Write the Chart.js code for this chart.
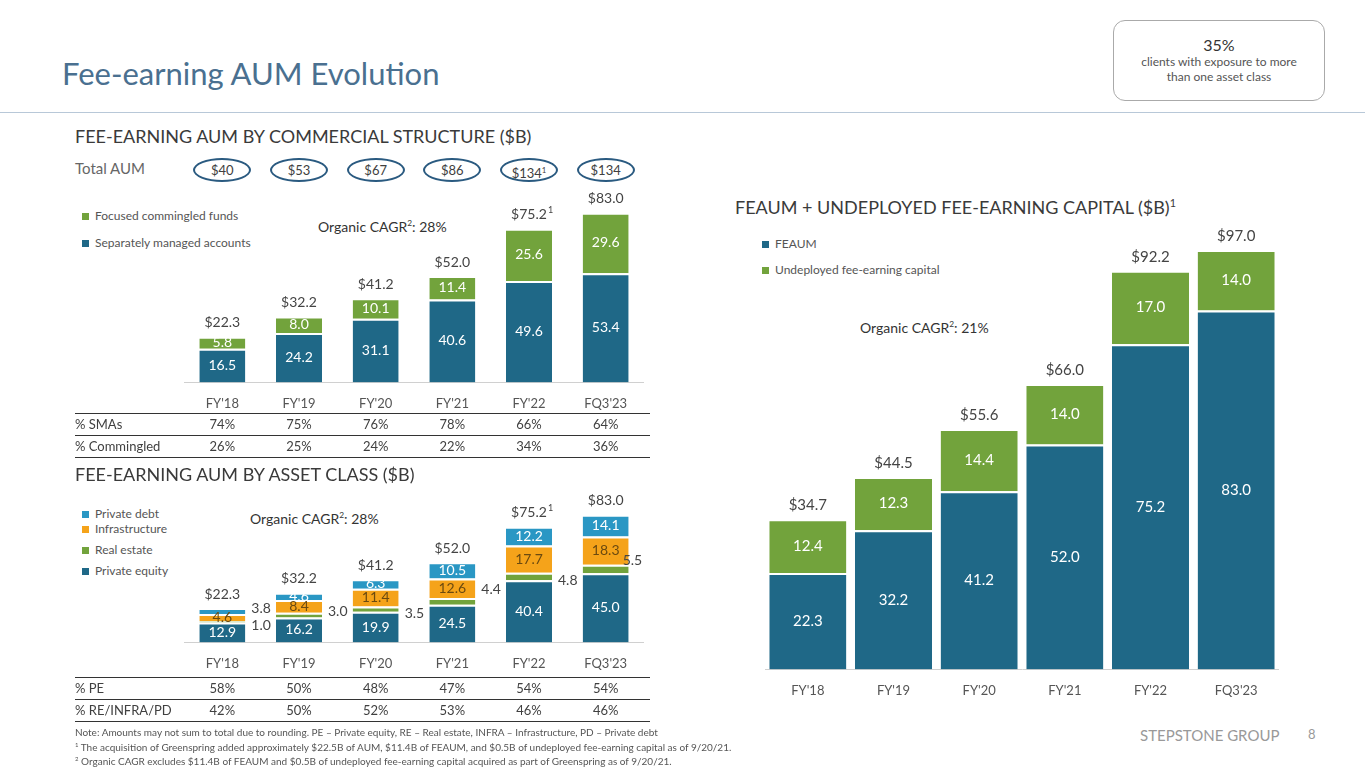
<!DOCTYPE html>
<html><head><meta charset="utf-8">
<script src="https://cdn.jsdelivr.net/npm/chart.js@4"></script>
<style>
body{margin:0;width:1365px;height:768px;position:relative;background:#fff;font-family:Lato,"Open Sans",sans-serif;color:#404040;overflow:hidden}
.a{position:absolute;white-space:nowrap}
.box{position:absolute}
.ov{position:absolute;width:58px;height:24px;border:2px solid #2a5a80;border-radius:50%;text-align:center;font-size:13px;color:#404040;box-sizing:border-box;line-height:20px}
.sq{display:inline-block;width:7px;height:7px;margin-right:6px}
.row{position:absolute;font-size:13px;color:#404040}
.hl{position:absolute;height:1px;background:#333}
sup{font-size:60%}
</style></head><body>
<div class="a" style="left:62px;top:54px;font-size:31px;color:#4a7090">Fee-earning AUM Evolution</div>
<div class="hl" style="left:0;top:112px;width:1365px;background:#b8c8d8"></div>
<div class="a" style="left:1113px;top:20px;width:212px;height:81px;border:1px solid #aaa;border-radius:12px;text-align:center;white-space:normal;box-sizing:border-box;background:#fff">
 <div style="font-size:16px;margin-top:14px;color:#333">35%</div>
 <div style="font-size:12px;color:#555;line-height:15px">clients with exposure to more<br>than one asset class</div></div>

<div class="a" style="left:75px;top:125px;font-size:18px;color:#3a3a3a">FEE-EARNING AUM BY COMMERCIAL STRUCTURE ($B)</div>
<div class="a" style="left:75px;top:159px;font-size:15px;color:#666">Total AUM</div>
<div id="ovals"></div>
<div class="a" style="left:82px;top:208px;font-size:12px;color:#555"><span class="sq" style="background:#72a33c"></span>Focused commingled funds</div>
<div class="a" style="left:82px;top:235px;font-size:12px;color:#555"><span class="sq" style="background:#1f6887"></span>Separately managed accounts</div>
<div class="a" style="left:318px;top:218px;font-size:14px;color:#333">Organic CAGR<sup>2</sup>: 28%</div>
<div class="box" style="left:184px;top:180px;width:460px;height:246px"><canvas id="c1"></canvas></div>
<div id="t1"></div>

<div class="a" style="left:75px;top:463px;font-size:18px;color:#3a3a3a">FEE-EARNING AUM BY ASSET CLASS ($B)</div>
<div class="a" style="left:82px;top:506px;font-size:12px;color:#555"><span class="sq" style="background:#2a97c4"></span>Private debt</div>
<div class="a" style="left:82px;top:521px;font-size:12px;color:#555"><span class="sq" style="background:#f5a31a"></span>Infrastructure</div>
<div class="a" style="left:82px;top:542px;font-size:12px;color:#555"><span class="sq" style="background:#72a33c"></span>Real estate</div>
<div class="a" style="left:82px;top:563px;font-size:12px;color:#555"><span class="sq" style="background:#1f6887"></span>Private equity</div>
<div class="a" style="left:250px;top:510px;font-size:14px;color:#333">Organic CAGR<sup>2</sup>: 28%</div>
<div class="box" style="left:184px;top:470px;width:460px;height:216px"><canvas id="c2"></canvas></div>
<div id="t2"></div>

<div class="a" style="left:735px;top:196px;font-size:18px;color:#3a3a3a">FEAUM + UNDEPLOYED FEE-EARNING CAPITAL ($B)<sup>1</sup></div>
<div class="a" style="left:762px;top:236px;font-size:12px;color:#555"><span class="sq" style="background:#1f6887"></span>FEAUM</div>
<div class="a" style="left:762px;top:262px;font-size:12px;color:#555"><span class="sq" style="background:#72a33c"></span>Undeployed fee-earning capital</div>
<div class="a" style="left:860px;top:319px;font-size:14px;color:#333">Organic CAGR<sup>2</sup>: 21%</div>
<div class="box" style="left:765px;top:210px;width:514px;height:503px"><canvas id="c3"></canvas></div>

<div class="a" style="left:75px;top:727px;font-size:10px;color:#555;line-height:11.5px">Note: Amounts may not sum to total due to rounding. PE – Private equity, RE – Real estate, INFRA – Infrastructure, PD – Private debt<br><sup>1</sup> The acquisition of Greenspring added approximately $22.5B of AUM, $11.4B of FEAUM, and $0.5B of undeployed fee-earning capital as of 9/20/21.<br><sup>2</sup> Organic CAGR excludes $11.4B of FEAUM and $0.5B of undeployed fee-earning capital acquired as part of Greenspring as of 9/20/21.</div>
<div class="a" style="left:1140px;top:726px;font-size:15px;color:#999">STEPSTONE GROUP</div>
<div class="a" style="left:1308px;top:726px;font-size:13px;color:#999">8</div>

<script>
const years = ["FY'18","FY'19","FY'20","FY'21","FY'22","FQ3'23"];
const totalAum = ["$40","$53","$67","$86","$134","$134"];
const totalAumSup = ["","","","","1",""];
// commercial structure
const smaVals = [16.5,24.2,31.1,40.6,49.6,53.4];
const fundVals = [5.8,8.0,10.1,11.4,25.6,29.6];
const structTotals = ["$22.3","$32.2","$41.2","$52.0","$75.2","$83.0"];
const totalSup = ["","","","","1",""];
const pctSma = ["74%","75%","76%","78%","66%","64%"];
const pctComm = ["26%","25%","24%","22%","34%","36%"];
// asset class
const peVals = [12.9,16.2,19.9,24.5,40.4,45.0];
const reVals = [1.0,3.0,3.5,4.4,4.8,5.5];
const infraVals = [4.6,8.4,11.4,12.6,17.7,18.3];
const pdVals = [3.8,4.6,6.3,10.5,12.2,14.1];
const pctPe = ["58%","50%","48%","47%","54%","54%"];
const pctRest = ["42%","50%","52%","53%","46%","46%"];
// feaum + undeployed
const feaumVals = [22.3,32.2,41.2,52.0,75.2,83.0];
const undeployedVals = [12.4,12.3,14.4,14.0,17.0,14.0];
const capTotals = ["$34.7","$44.5","$55.6","$66.0","$92.2","$97.0"];

const BLUE="#1f6887", GREEN="#72a33c", ORANGE="#f5a31a", LBLUE="#2a97c4";
const FONT="Lato, 'Open Sans', sans-serif";
const cx = i => 184 + 460/6*(i+0.5);

// ovals and tables
let h="";
years.forEach((y,i)=>{ h+=`<div class="ov" style="left:${cx(i)-29}px;top:158px">${totalAum[i]}${totalAumSup[i]?'<sup>'+totalAumSup[i]+'</sup>':''}</div>`; });
document.getElementById("ovals").innerHTML=h;
function table(el,top,labels,rows){
  let s=`<div class="hl" style="left:75px;top:${top}px;width:575px"></div>`;
  rows.forEach((r,k)=>{
    const y=top+k*22;
    s+=`<div class="row" style="left:75px;top:${y+3}px">${labels[k]}</div>`;
    r.forEach((v,i)=>{ s+=`<div class="row" style="left:${cx(i)-30}px;width:60px;text-align:center;top:${y+3}px">${v}</div>`; });
    s+=`<div class="hl" style="left:75px;top:${y+22}px;width:575px"></div>`;
  });
  document.getElementById(el).innerHTML=s;
}
table("t1",413,["% SMAs","% Commingled"],[pctSma,pctComm]);
table("t2",677,["% PE","% RE/INFRA/PD"],[pctPe,pctRest]);

const labelPlugin = {
  id:"lbl",
  afterDatasetsDraw(chart,args,opts){
    const ctx=chart.ctx; ctx.save();
    ctx.font=`${opts.size||14}px ${FONT}`; ctx.textBaseline="middle";
    chart.data.datasets.forEach((ds,d)=>{
      const meta=chart.getDatasetMeta(d);
      meta.data.forEach((bar,i)=>{
        const mid=(bar.y+bar.base)/2, v=ds.data[i].toFixed(1);
        const out = ds.outside && ds.outside[i];
        if(out){ ctx.fillStyle="#444"; ctx.textAlign="left"; ctx.fillText(v,bar.x+bar.width/2+out[0],mid+out[1]); }
        else { ctx.fillStyle=ds.textColor||"#fff"; ctx.textAlign="center"; ctx.fillText(v,bar.x,mid); }
      });
    });
    const last=chart.getDatasetMeta(chart.data.datasets.length-1);
    last.data.forEach((bar,i)=>{
      ctx.fillStyle="#444"; ctx.textAlign="center"; ctx.font=`${opts.size||14}px ${FONT}`;
      const t=opts.totals[i], sp=opts.sups[i];
      const w=ctx.measureText(t).width;
      ctx.fillText(t,bar.x,bar.y-14);
      if(sp){ ctx.font=`9px ${FONT}`; ctx.textAlign="left"; ctx.fillText(sp,bar.x+w/2+1,bar.y-19); }
    });
    ctx.restore();
  }
};

function makeChart(id,datasets,max,barPct,totals,sups,size,padTop){
  return new Chart(document.getElementById(id),{
    type:"bar",
    data:{labels:years,datasets},
    plugins:[labelPlugin],
    options:{
      responsive:true,maintainAspectRatio:false,animation:false,
      layout:{padding:{top:padTop||0}},
      plugins:{legend:{display:false},tooltip:{enabled:false},lbl:{totals,sups,size}},
      scales:{
        x:{stacked:true,grid:{display:false,drawTicks:false},border:{color:"#d0d0d0"},
           ticks:{color:"#555",font:{family:FONT,size:13},padding:14}},
        y:{stacked:true,display:false,min:0,max}
      },
      datasets:{bar:{barPercentage:barPct,categoryPercentage:1,borderColor:"#fff",borderWidth:{top:2,bottom:0,left:0,right:0},borderSkipped:false}}
    }
  });
}

makeChart("c1",[
  {data:smaVals,backgroundColor:BLUE},
  {data:fundVals,backgroundColor:GREEN}
],99,0.6,structTotals,totalSup,14);

makeChart("c2",[
  {data:peVals,backgroundColor:BLUE},
  {data:reVals,backgroundColor:GREEN,outside:[[6,4],[6,-4],[6,4],[6,-12],[6,4],[-6,-8]]},
  {data:infraVals,backgroundColor:ORANGE,textColor:"#6b4a10"},
  {data:pdVals,backgroundColor:LBLUE,outside:[[6,-3],null,null,null,null,null]}
],112,0.6,structTotals,totalSup,14);

makeChart("c3",[
  {data:feaumVals,backgroundColor:BLUE},
  {data:undeployedVals,backgroundColor:GREEN}
],99.3,0.9,capTotals,["","","","","",""],15,30);
</script>
</body></html>
